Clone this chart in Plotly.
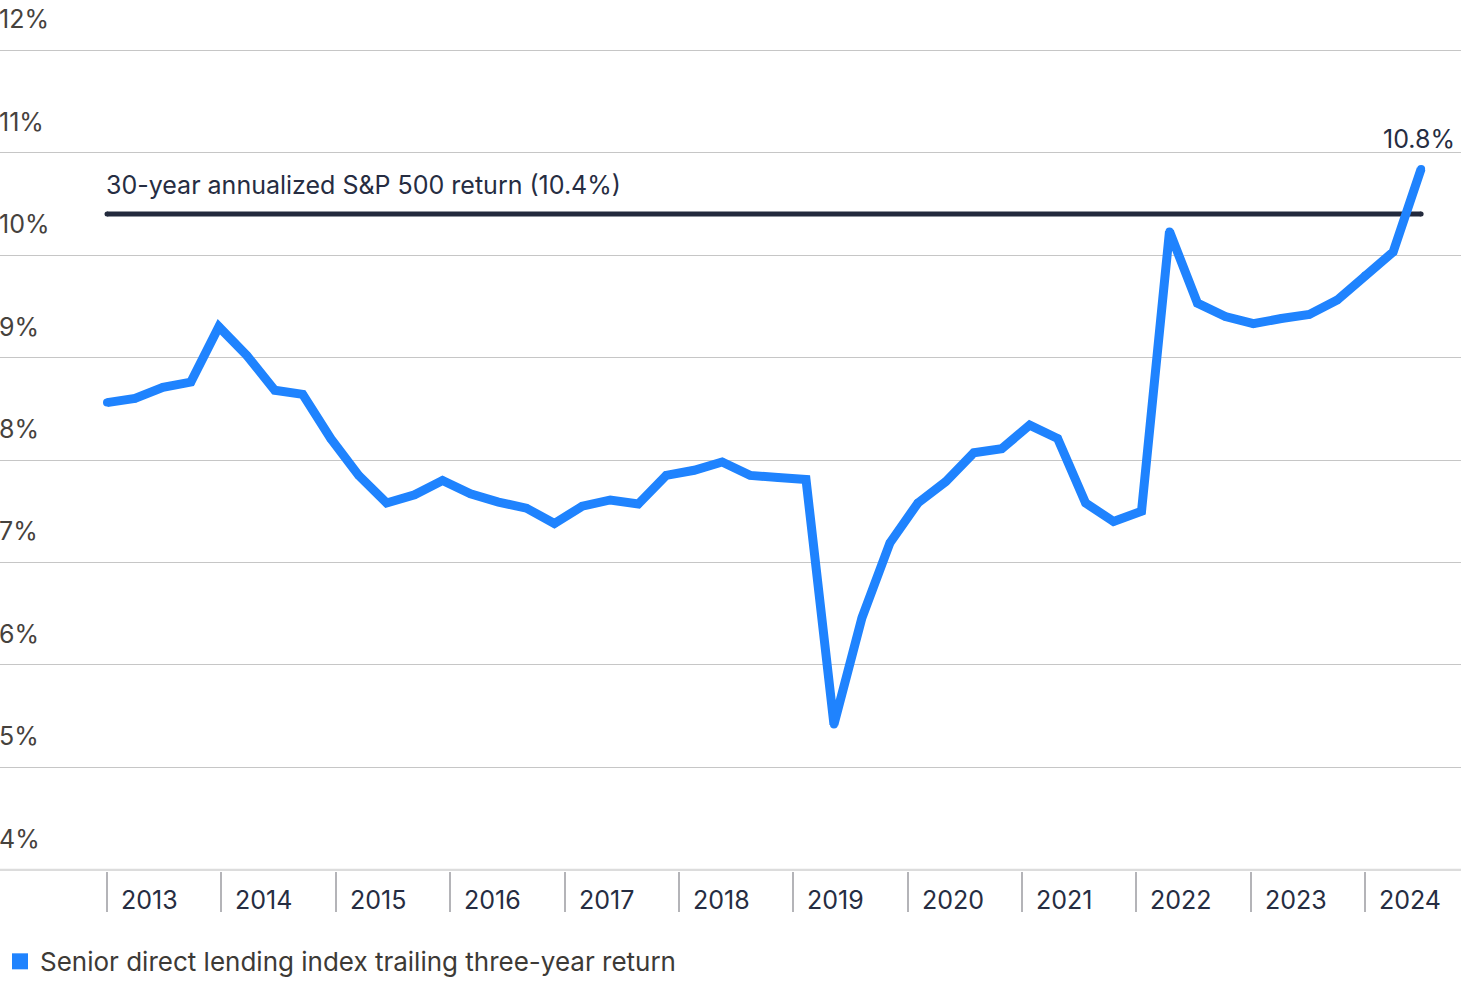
import plotly.graph_objects as go

# ---- data ----
lending_returns = [
    8.56, 8.60, 8.71, 8.76, 9.30, 9.02, 8.68, 8.64, 8.21, 7.85,
    7.58, 7.66, 7.80, 7.67, 7.59, 7.53, 7.38, 7.55, 7.61, 7.57,
    7.85, 7.90, 7.98, 7.85, 7.83, 7.81, 5.42, 6.46, 7.19, 7.58,
    7.79, 8.07, 8.11, 8.34, 8.21, 7.58, 7.40, 7.50, 10.23, 9.53,
    9.40, 9.33, 9.38, 9.42, 9.56, 9.80, 10.03, 10.84,
]
sp500_return = 10.4
year_labels = ["2013", "2014", "2015", "2016", "2017", "2018",
               "2019", "2020", "2021", "2022", "2023", "2024"]
y_ticks = [4, 5, 6, 7, 8, 9, 10, 11, 12]
series_name = "Senior direct lending index trailing three-year return"
benchmark_text = "30-year annualized S&P 500 return (10.4%)"
end_label = "10.8%"

# ---- layout helpers ----
x = list(range(len(lending_returns)))
last_idx = len(x) - 1
year_span = 45 / (len(year_labels) - 1)  # index units between year ticks
year_ticks = [i * year_span for i in range(len(year_labels))]

W, H = 1461, 991
px_per_idx = 27.96
x_start_px = 107
x_range = [-x_start_px / px_per_idx, (W - x_start_px) / px_per_idx]

BLUE = "#1f83fe"
NAVY = "#232a3d"
FONT = "Inter, Roboto, sans-serif"

fig = go.Figure()

fig.add_trace(go.Scatter(
    x=[x[0], x[-1]], y=[sp500_return, sp500_return],
    mode="lines", line=dict(color=NAVY, width=5),
    showlegend=False, hoverinfo="skip",
))
fig.add_trace(go.Scatter(
    x=[x[0], x[-1]], y=[sp500_return, sp500_return],
    mode="markers", marker=dict(color=NAVY, size=5),
    showlegend=False, hoverinfo="skip",
))
fig.add_trace(go.Scatter(
    x=x, y=lending_returns, mode="lines+markers",
    line=dict(color=BLUE, width=9),
    marker=dict(color=BLUE, size=8),
    showlegend=False,
))
# legend entry with square swatch
fig.add_trace(go.Scatter(
    x=[None], y=[None], mode="markers", name=series_name,
    marker=dict(color=BLUE, size=17, symbol="square"),
    showlegend=True,
))

annotations = []
for v in y_ticks:
    annotations.append(dict(
        x=0, xref="paper", y=v, yref="y", text=f"{v}%",
        showarrow=False, xanchor="left", yanchor="middle",
        yshift=31, xshift=-3,
        font=dict(family=FONT, size=25, color="#46423d"),
    ))
for tv, lab in zip(year_ticks, year_labels):
    annotations.append(dict(
        x=tv, xref="x", y=4, yref="y", text=lab,
        showarrow=False, xanchor="left", yanchor="middle",
        xshift=12, yshift=-30,
        font=dict(family=FONT, size=25, color="#262d42"),
    ))
annotations.append(dict(
    x=x[0], xref="x", y=sp500_return, yref="y", text=benchmark_text,
    showarrow=False, xanchor="left", yanchor="middle",
    xshift=-3, yshift=29,
    font=dict(family=FONT, size=25, color="#262d42"),
))
annotations.append(dict(
    x=x[last_idx], xref="x", y=lending_returns[last_idx], yref="y",
    text=end_label, showarrow=False, xanchor="right", yanchor="middle",
    xshift=36, yshift=30,
    font=dict(family=FONT, size=25, color="#262d42"),
))

fig.update_layout(
    width=W, height=H,
    margin=dict(l=0, r=0, t=49, b=120),
    paper_bgcolor="white", plot_bgcolor="white",
    font=dict(family=FONT, size=25, color="#3d3a36"),
    annotations=annotations,
    showlegend=True,
    legend=dict(
        orientation="h", x=0, xanchor="left", y=-0.11, yanchor="middle",
        font=dict(family=FONT, size=26, color="#3d3a36"),
        itemsizing="trace", bgcolor="rgba(0,0,0,0)",
    ),
    xaxis=dict(
        range=x_range, showgrid=False, zeroline=False,
        tickmode="array", tickvals=year_ticks, ticktext=[""] * len(year_ticks),
        ticks="outside", ticklen=40, tickcolor="#b4b4b8", tickwidth=1.5,
        showline=False, fixedrange=True,
    ),
    yaxis=dict(
        range=[3.99, 12.01], showgrid=True, gridcolor="#c6c6c6", gridwidth=1,
        zeroline=False, tickmode="array", tickvals=y_ticks[1:],
        showticklabels=False, showline=False, fixedrange=True,
    ),
    shapes=[dict(
        type="line", xref="paper", x0=0, x1=1, yref="y", y0=4, y1=4,
        line=dict(color="#dcdcdc", width=2.5), layer="below",
    )],
)

fig.write_html(
    "out.html",
    config={"displayModeBar": False},
    post_script="document.body.style.margin='0';document.body.style.padding='0';",
)
